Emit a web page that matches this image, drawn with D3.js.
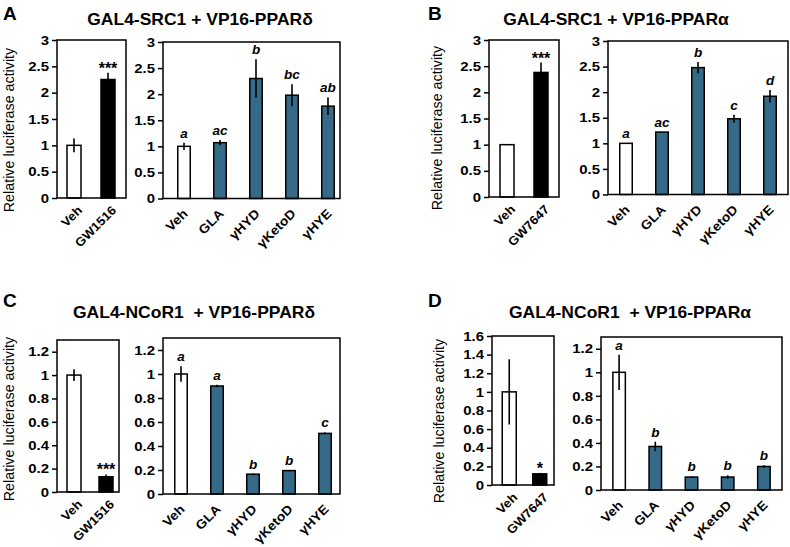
<!DOCTYPE html>
<html>
<head>
<meta charset="utf-8" />
<title></title>
<style>
html, body {
    padding: 0px;
    margin: 0px;
    background: #fff;
}
svg {
    display: block;
    font-family: "Liberation Sans", Arial, sans-serif;
}
</style>
</head>
<body>
<svg id="chart" width="790" height="547"></svg>

<script src="https://cdnjs.cloudflare.com/ajax/libs/d3/7.8.5/d3.min.js"></script>
<script>
!(function(){
    "use strict";

    // data
    var panelLetters = ["A", "B", "C", "D"];
    var panelTitles = [
        "GAL4-SRC1 + VP16-PPAR\u03b4",
        "GAL4-SRC1 + VP16-PPAR\u03b1",
        "GAL4-NCoR1\u00a0 + VP16-PPAR\u03b4",
        "GAL4-NCoR1\u00a0 + VP16-PPAR\u03b1"
    ];
    var yTitle = "Relative luciferase activity";

    var controlCats = [["Veh", "GW1516"], ["Veh", "GW7647"], ["Veh", "GW1516"], ["Veh", "GW7647"]];
    var controlValues = [[1, 2.25], [1, 2.38], [1, 0.13], [1, 0.12]];
    var controlErrors = [[0.13, 0.13], [0, 0.19], [0.05, 0.02], [0.35, 0.01]];
    var controlMarks = [["", "***"], ["", "***"], ["", "***"], ["", "*"]];
    var controlMax = [3, 3, 1.3, 1.6];
    var controlTicks = [
        [0, 0.5, 1, 1.5, 2, 2.5, 3],
        [0, 0.5, 1, 1.5, 2, 2.5, 3],
        [0, 0.2, 0.4, 0.6, 0.8, 1, 1.2],
        [0, 0.2, 0.4, 0.6, 0.8, 1, 1.2, 1.4, 1.6]
    ];

    var compoundCats = ["Veh", "GLA", "\u03b3HYD", "\u03b3KetoD", "\u03b3HYE"];
    var compoundValues = [
        [1, 1.07, 2.3, 1.98, 1.77],
        [1, 1.22, 2.48, 1.48, 1.92],
        [1, 0.9, 0.165, 0.195, 0.505],
        [1, 0.37, 0.11, 0.11, 0.2]
    ];
    var compoundErrors = [
        [0.07, 0.05, 0.37, 0.21, 0.17],
        [0, 0, 0.11, 0.08, 0.12],
        [0.065, 0.01, 0.005, 0.004, 0.01],
        [0.15, 0.04, 0.005, 0.015, 0.01]
    ];
    var compoundLetters = [
        ["a", "ac", "b", "bc", "ab"],
        ["a", "ac", "b", "c", "d"],
        ["a", "a", "b", "b", "c"],
        ["a", "b", "b", "b", "b"]
    ];
    var compoundMax = [3, 3, 1.3, 1.3];
    var compoundTicks = [
        [0, 0.5, 1, 1.5, 2, 2.5, 3],
        [0, 0.5, 1, 1.5, 2, 2.5, 3],
        [0, 0.2, 0.4, 0.6, 0.8, 1, 1.2],
        [0, 0.2, 0.4, 0.6, 0.8, 1, 1.2]
    ];

    // layout (pixels)
    var layouts = [
        {
            letter: [3, 20], title: [200, 25], yt: [14, 130],
            ctrl: {x0: 57, x1: 126, y0: 40, y1: 198, band: [57, 125]},
            cmp: {x0: 163, x1: 340, y0: 42, y1: 198.5, band: [166, 346]}
        },
        {
            letter: [428, 20], title: [616, 25], yt: [442, 128],
            ctrl: {x0: 489, x1: 559, y0: 40, y1: 197, band: [490, 558]},
            cmp: {x0: 608, x1: 788, y0: 41, y1: 194.5, band: [608, 788]}
        },
        {
            letter: [3, 307], title: [194, 318], yt: [14, 419],
            ctrl: {x0: 57, x1: 119, y0: 340, y1: 492, band: [58, 122]},
            cmp: {x0: 163, x1: 340, y0: 338, y1: 494, band: [163, 343]}
        },
        {
            letter: [428, 307], title: [630, 318], yt: [444, 421],
            ctrl: {x0: 492, x1: 554, y0: 336, y1: 485, band: [494, 555]},
            cmp: {x0: 601, x1: 782, y0: 337, y1: 490, band: [601, 782]}
        }
    ];

    var blue = "#356a89";
    var svg = d3.select("#chart");
    var fmt = function(d) { return String(+d.toFixed(1)); };

    panelLetters.forEach(function(letter, i) {
        var L = layouts[i];
        var g = svg.append("g");

        g.append("text")
            .attr("x", L.letter[0]).attr("y", L.letter[1])
            .attr("font-size", 19).attr("font-weight", "bold")
            .text(letter);

        g.append("text")
            .attr("transform", "translate(" + L.title[0] + "," + L.title[1] + ") scale(1.06,1)")
            .attr("text-anchor", "middle")
            .attr("font-size", 16.5).attr("font-weight", "bold")
            .text(panelTitles[i]);

        g.append("text")
            .attr("transform", "translate(" + L.yt[0] + "," + L.yt[1] + ") rotate(-90)")
            .attr("text-anchor", "middle")
            .attr("font-size", 14.3)
            .text(yTitle);

        drawPlot(g, L.ctrl, controlCats[i], controlValues[i], controlErrors[i],
            controlMarks[i], controlMax[i], controlTicks[i], true);
        drawPlot(g, L.cmp, compoundCats, compoundValues[i], compoundErrors[i],
            compoundLetters[i], compoundMax[i], compoundTicks[i], false);
    });

    function drawPlot(g, box, cats, values, errors, marks, ymax, ticks, isControl) {
        var x = d3.scaleBand().domain(cats).range(box.band);
        var y = d3.scaleLinear().domain([0, ymax]).range([box.y1, box.y0]);
        var bw = isControl ? 14 : 12.5;

        var axis = g.append("g")
            .attr("transform", "translate(" + box.x0 + ",0)")
            .call(d3.axisLeft(y).tickValues(ticks).tickSize(5).tickPadding(3).tickFormat(fmt));
        axis.select(".domain").remove();
        axis.selectAll(".tick line").attr("stroke", "#000").attr("stroke-width", 1.5);
        axis.selectAll(".tick text")
            .attr("x", 0)
            .attr("transform", "translate(-8,0) scale(1.15,1)")
            .attr("fill", "#000")
            .attr("font-size", 13)
            .attr("font-weight", "bold")
            .attr("font-family", "Liberation Sans, Arial, sans-serif");

        var data = cats.map(function(c, j) {
            return {cat: c, v: values[j], e: errors[j], m: marks[j], j: j};
        });

        g.selectAll(null)
            .data(data)
            .enter()
            .append("rect")
            .attr("x", function(d) { return x(d.cat) + x.bandwidth() / 2 - bw / 2; })
            .attr("y", function(d) { return y(d.v); })
            .attr("width", bw)
            .attr("height", function(d) { return y(0) - y(d.v); })
            .attr("fill", function(d) {
                if (d.j === 0) return "#fff";
                return isControl ? "#000" : blue;
            })
            .attr("stroke", "#000")
            .attr("stroke-width", 1.5);

        g.selectAll(null)
            .data(data.filter(function(d) { return d.e > 0; }))
            .enter()
            .append("line")
            .attr("x1", function(d) { return x(d.cat) + x.bandwidth() / 2; })
            .attr("x2", function(d) { return x(d.cat) + x.bandwidth() / 2; })
            .attr("y1", function(d) { return y(d.v + d.e); })
            .attr("y2", function(d) { return y(d.v - d.e); })
            .attr("stroke", "#000")
            .attr("stroke-width", 1.6);

        g.selectAll(null)
            .data(data.filter(function(d) { return d.m; }))
            .enter()
            .append("text")
            .attr("x", function(d) { return x(d.cat) + x.bandwidth() / 2; })
            .attr("y", function(d) { return y(d.v + d.e) + (isControl ? 1 : -5); })
            .attr("text-anchor", "middle")
            .attr("font-size", isControl ? 16 : 13.5)
            .attr("font-weight", "bold")
            .attr("font-style", isControl ? "normal" : "italic")
            .text(function(d) { return d.m; });

        g.append("rect")
            .attr("x", box.x0).attr("y", box.y0)
            .attr("width", box.x1 - box.x0).attr("height", box.y1 - box.y0)
            .attr("fill", "none")
            .attr("stroke", "#000")
            .attr("stroke-width", 1.5);

        var dx = isControl ? 9 : 4.5;
        var dy = isControl ? 13 : 16;
        g.selectAll(null)
            .data(cats)
            .enter()
            .append("text")
            .attr("transform", function(c) {
                return "translate(" + (x(c) + x.bandwidth() / 2 + dx) + "," + (box.y1 + dy) + ") rotate(-45) scale(1.08,1)";
            })
            .attr("text-anchor", "end")
            .attr("font-size", isControl ? 12.3 : 12.8)
            .attr("font-weight", "bold")
            .text(function(c) { return c; });
    }

}());
</script>
</body>
</html>
